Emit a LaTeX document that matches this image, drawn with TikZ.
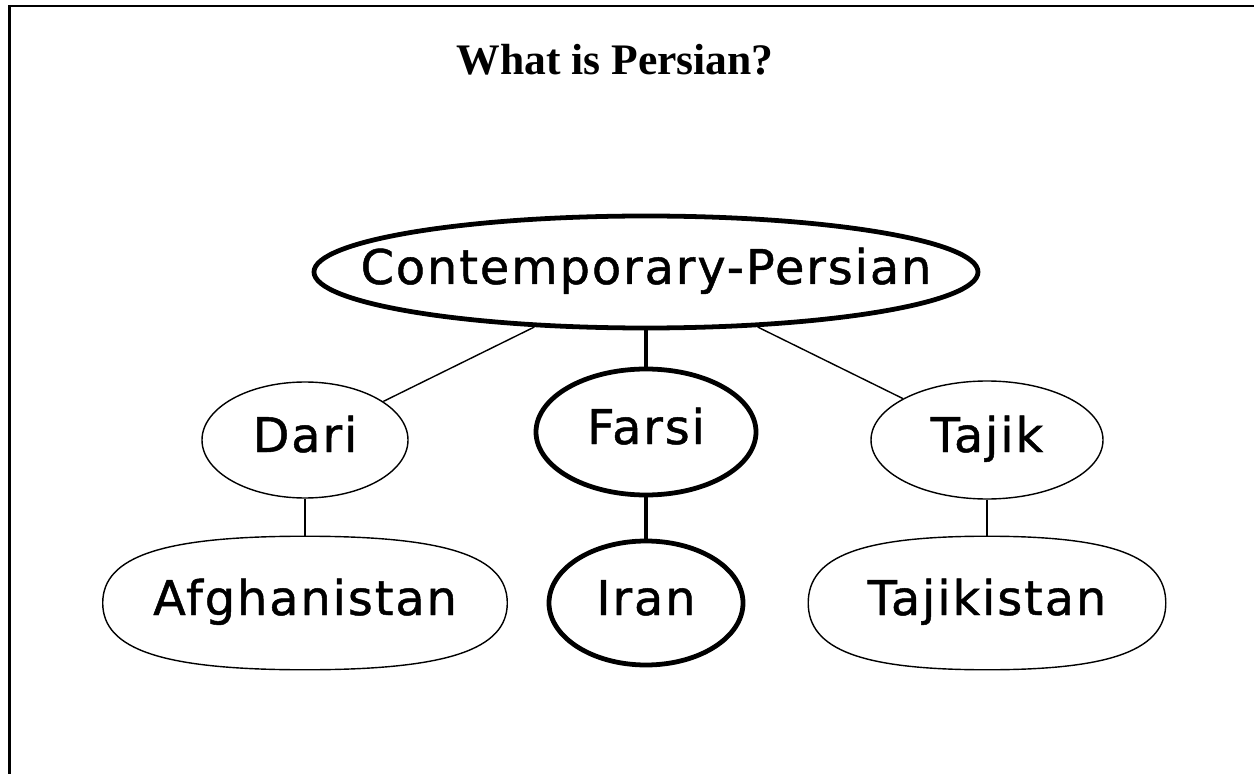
\documentclass[tikz,border=0pt]{standalone}
\usepackage{fontspec}
\setmainfont{Liberation Serif}
\newfontfamily\nodefont[LetterSpace=4,FakeBold=1]{DejaVu Sans}
\usetikzlibrary{shapes.geometric,calc}

\tikzset{
  lang/.style={ellipse, draw, line width=1pt, inner sep=0pt, text height=0.9cm, text depth=0.3cm,
    font=\nodefont\fontsize{34}{40}\selectfont,
    execute at begin node={\hbox to 0pt\bgroup\hss}, execute at end node={\hss\egroup}},
  place/.style={rectangle, inner sep=0pt, text height=0.9cm, text depth=0.3cm,
    font=\nodefont\fontsize{34}{40}\selectfont},
  heavy/.style={line width=3.4pt}
}

% rounded box with flat top and bottom, drawn round a rectangle node
\newcommand\roundblob[2][]{%
  \draw[#1] (#2.north) .. controls ($(#2.north)!.7!(#2.north east)$) and ($(#2.east)!.7!(#2.north east)$) .. (#2.east)
    .. controls ($(#2.east)!.7!(#2.south east)$) and ($(#2.south)!.7!(#2.south east)$) .. (#2.south)
    .. controls ($(#2.south)!.7!(#2.south west)$) and ($(#2.west)!.7!(#2.south west)$) .. (#2.west)
    .. controls ($(#2.west)!.7!(#2.north west)$) and ($(#2.north)!.7!(#2.north west)$) .. cycle;}

\begin{document}
\begin{tikzpicture}
	\useasboundingbox (0,0) rectangle (31.35,-19.35);
	% frame
	\draw [line width=2.1pt] (0.2375,-19.35) -- (0.2375,-0.15) -- (31.35,-0.15);
	% title
	\node [anchor=base, font=\bfseries\fontsize{31}{38}\selectfont] (title) at (15.375,-1.875) {What is Persian?};
	% languages
	\node [lang, heavy, minimum width=16.6cm, minimum height=2.8cm] (persian) at (16.15,-6.8) {Contemporary-Persian};
	\node [lang, minimum width=5.15cm, minimum height=2.9cm] (dari) at (7.625,-11.0) {Dari};
	\node [lang, heavy, minimum width=5.5cm, minimum height=3.15cm] (farsi) at (16.15,-10.8) {Farsi};
	\node [lang, minimum width=5.8cm, minimum height=2.95cm] (tajik) at (24.675,-11.0) {Tajik};
	% countries
	\node [place, minimum width=10.1cm, minimum height=3.325cm] (afghanistan) at (7.625,-15.075) {Afghanistan};
	\node [lang, heavy, minimum width=4.85cm, minimum height=3.1cm] (iran) at (16.15,-15.075) {Iran};
	\node [place, minimum width=8.925cm, minimum height=3.325cm] (tajikistan) at (24.675,-15.075) {Tajikistan};
	\roundblob[line width=1pt]{afghanistan}
	\roundblob[line width=1pt]{tajikistan}
	% connectors
	\draw [line width=1pt] (persian) -- (dari);
	\draw [line width=1pt] (persian) -- (tajik);
	\draw [heavy] (persian.south) -- (farsi.north);
	\draw [line width=1pt] (dari.south) -- (afghanistan.north);
	\draw [heavy] (farsi.south) -- (iran.north);
	\draw [line width=1pt] (tajik.south) -- (tajikistan.north);
\end{tikzpicture}
\end{document}
